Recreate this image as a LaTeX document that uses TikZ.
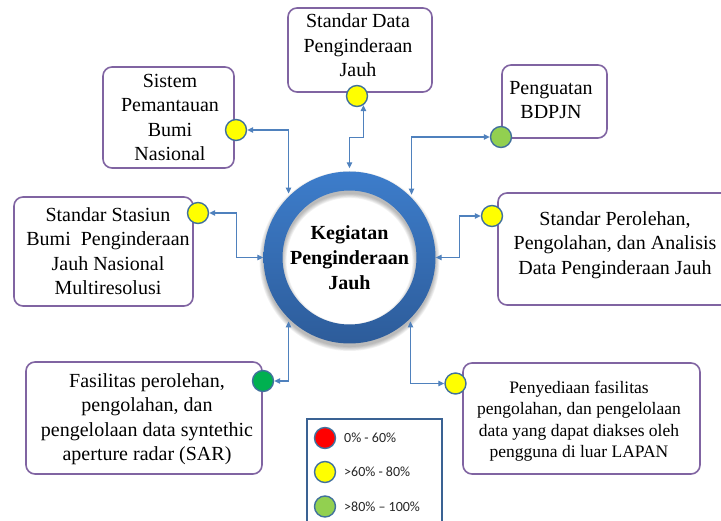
\documentclass[tikz,border=0pt]{standalone}
\usepackage{fontspec}
\setmainfont{Liberation Serif}
\newfontfamily\legendfont{Carlito}
\usetikzlibrary{arrows.meta}

\definecolor{boxline}{HTML}{8064A2}
\definecolor{connblue}{HTML}{4F81BD}
\definecolor{dotline}{HTML}{41719C}
\definecolor{ringtop}{HTML}{3D7DCB}
\definecolor{ringbot}{HTML}{2D5C9A}
\definecolor{dotyellow}{HTML}{FFFF00}
\definecolor{dotlime}{HTML}{92D050}
\definecolor{dotgreen}{HTML}{00B050}
\definecolor{dotred}{HTML}{FF0000}
\definecolor{legendline}{HTML}{3A6293}

\begin{document}
\begin{tikzpicture}[x=1pt,y=-1pt,
  panel/.style={draw=boxline, line width=1.6pt, rounded corners=9pt, fill=white,
    inner sep=0pt, rectangle},
  caption/.style={align=center, font=\fontsize{20}{24.5}\selectfont, inner sep=0pt},
  smallcaption/.style={align=center, font=\fontsize{17.5}{21.5}\selectfont, inner sep=0pt},
  status/.style={circle, draw=dotline, line width=1.4pt, minimum size=21pt, inner sep=0pt},
  conn/.style={draw=connblue, line width=1.1pt,
    {Triangle[length=6pt,width=5.5pt]}-{Triangle[length=6pt,width=5.5pt]}},
  legendtext/.style={anchor=west, inner sep=0pt, text=black!85,
    font=\legendfont\fontsize{14}{16}\selectfont},
]
\useasboundingbox (0,0) rectangle (721,521);

% central ring with a soft shadow cast downwards
\node[circle, minimum size=172pt, inner sep=0pt] (circ) at (349.5,257.5) {};
\foreach \k in {0,...,5} {
  \pgfmathsetmacro\ro{86+0.8*\k}
  \pgfmathsetmacro\ri{67-0.8*\k}
  \fill[black, opacity=0.05, even odd rule]
    ([yshift=-3.5pt]circ.center) circle[radius=\ro pt]
    ([yshift=-3.5pt]circ.center) circle[radius=\ri pt];
}
\shade[top color=ringtop, bottom color=ringbot, even odd rule]
  (circ.center) circle[radius=86pt] (circ.center) circle[radius=67pt];
\node[font=\bfseries\fontsize{20}{25}\selectfont, align=center, inner sep=0pt] (core)
  at (349.5,257.5) {Kegiatan\\Penginderaan\\Jauh};

% activity boxes
\node[panel, minimum width=144pt, minimum height=84pt]  (b1) at (360,50) {};
\node[panel, minimum width=131pt, minimum height=101pt] (b2) at (168.5,117.5) {};
\node[panel, minimum width=105pt, minimum height=73pt]  (b3) at (554.5,101.5) {};
\node[panel, minimum width=179pt, minimum height=109pt] (b4) at (103.5,251.5) {};
\node[panel, minimum width=237pt, minimum height=112pt] (b5) at (616.5,249) {};
\node[panel, minimum width=236pt, minimum height=112pt] (b6) at (144,418) {};
\node[panel, minimum width=237pt, minimum height=111pt] (b7) at (581.5,418.5) {};

\node[caption] (t1) at (358,45.5) {Standar Data\\Penginderaan\\Jauh};
\node[caption] (t2) at (170,117.5) {Sistem\\Pemantauan\\Bumi\\Nasional};
\node[caption] (t3) at (551,100) {Penguatan\\BDPJN};
\node[caption] (t4) at (108,251) {Standar Stasiun\\Bumi\ \ Penginderaan\\Jauh Nasional\\Multiresolusi};
\node[caption] (t5) at (615,245) {Standar Perolehan,\\Pengolahan, dan Analisis\\Data Penginderaan Jauh};
\node[caption] (t6) at (147,419) {Fasilitas perolehan,\\pengolahan, dan\\pengelolaan data syntethic\\aperture radar (SAR)};
\node[smallcaption] (t7) at (579,421) {Penyediaan fasilitas\\pengolahan, dan pengelolaan\\data yang dapat diakses oleh\\pengguna di luar LAPAN};

% status markers
\node[status, fill=dotyellow] (sdDot)  at (357,96) {};
\node[status, fill=dotyellow] (sisDot) at (236,130) {};
\node[status, fill=dotlime]   (pgDot)  at (501,137) {};
\node[status, fill=dotyellow] (ssDot)  at (198,213) {};
\node[status, fill=dotyellow] (spDot)  at (492,216) {};
\node[status, fill=dotgreen]  (fsDot)  at (263,381) {};
\node[status, fill=dotyellow] (pyDot)  at (455.5,383.5) {};

% connectors between the ring and the markers
\draw[conn, shorten >=3pt] (sisDot.east) -| (circ.135);
\draw[conn, shorten <=3pt] (circ.north) -- ++(0,-34) -| (sdDot.-55);
\draw[conn, shorten >=3pt] (pgDot.west) -| (circ.44);
\draw[conn] (ssDot.east) -| ([xshift=-27pt]circ.west) -- (circ.west);
\draw[conn] (spDot.west) -| ([xshift=24pt]circ.east) -- (circ.east);
\draw[conn, shorten >=3pt] (fsDot.east) -| (circ.225);
\draw[conn, shorten >=3pt] (pyDot.west) -| (circ.-45);

% legend
\node[draw=legendline, line width=1.6pt, fill=white, minimum width=135pt,
  minimum height=122pt, inner sep=0pt, anchor=north west] (legend) at (306,418) {};
\node[status, fill=dotred]    (lgRed)    at (325,438) {};
\node[status, fill=dotyellow] (lgYellow) at (325,472) {};
\node[status, fill=dotlime]   (lgLime)   at (325,506.5) {};
\node[legendtext] (lgRedTxt)    at (344,438)   {0\% - 60\%};
\node[legendtext] (lgYellowTxt) at (344,472)   {>60\% - 80\%};
\node[legendtext] (lgLimeTxt)   at (344,506.5) {>80\% – 100\%};
\end{tikzpicture}
\end{document}
